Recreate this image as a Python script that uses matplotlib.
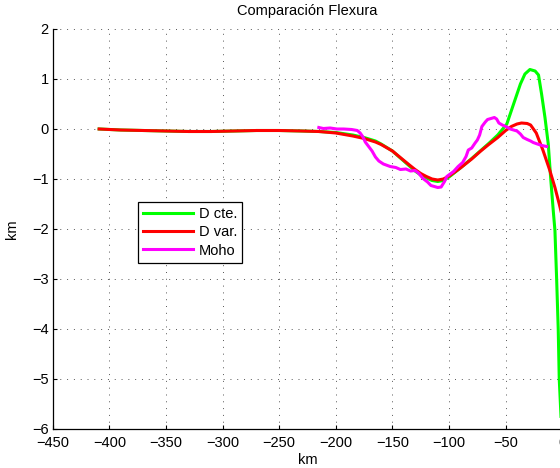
import numpy as np
import matplotlib
matplotlib.use("Agg")
import matplotlib.pyplot as plt

plt.rcParams['font.family'] = ['Liberation Sans', 'DejaVu Sans']
plt.rcParams['font.size'] = 10.5

# D var. (red)
x_var = [-409, -390, -370, -350, -330, -310, -290, -270, -250, -230, -215, -200,
         -185, -175, -165, -160, -150, -142, -135, -130, -125, -120, -115, -110,
         -105, -100, -90, -80, -72, -65, -57, -50, -45, -40, -36, -31, -28, -23,
         -17, -11, -6.5, -2.7, 0]
y_var = [0.0, -0.02, -0.03, -0.04, -0.05, -0.05, -0.04, -0.03, -0.03, -0.04, -0.05, -0.08,
         -0.14, -0.19, -0.26, -0.31, -0.44, -0.59, -0.72, -0.81, -0.89, -0.95, -1.0, -1.02,
         -1.0, -0.94, -0.78, -0.6, -0.44, -0.31, -0.17, -0.03, 0.05, 0.10, 0.12, 0.11, 0.08, -0.08,
         -0.43, -0.83, -1.17, -1.5, -1.75]

# D cte. (green)
x_cte = [-409, -390, -370, -350, -330, -310, -290, -270, -250, -230, -215, -200,
         -185, -175, -165, -160, -150, -142, -135, -130, -125, -120, -115, -110,
         -105, -100, -90, -80, -72, -65, -57, -49, -43, -37, -33, -28.6, -24, -21,
         -18.3, -15.3, -12.4, -10.3, -8, -6.5, -5, -3.6, -2.7, 0]
y_cte = [0.0, -0.02, -0.03, -0.04, -0.05, -0.05, -0.04, -0.03, -0.03, -0.04, -0.05, -0.07,
         -0.12, -0.17, -0.24, -0.30, -0.44, -0.60, -0.74, -0.84, -0.92, -0.98, -1.03, -1.05,
         -1.03, -0.96, -0.78, -0.59, -0.43, -0.29, -0.12, 0.10, 0.50, 0.90, 1.10, 1.19, 1.16, 1.08,
         0.70, 0.23, -0.30, -0.97, -1.63, -2.03, -3.0, -4.0, -5.0, -6.3]

# Moho (magenta)
x_moho = [-215, -211, -205, -199, -193, -186, -181, -178.5, -176, -174, -171, -168,
          -165, -162, -158, -152, -147, -143, -138, -134, -130, -127, -123, -119,
          -116, -113, -110, -107, -104, -102, -99, -96, -92, -88, -85, -83, -80,
          -77, -75, -73, -71, -68, -66, -63, -60, -58, -56, -53, -49, -46, -43,
          -40, -37, -34.5, -31, -28, -25.7, -22, -18, -13.8]
y_moho = [0.03, 0.01, 0.02, 0.0, 0.0, -0.01, -0.03, -0.08, -0.16, -0.26, -0.35, -0.44,
          -0.56, -0.64, -0.70, -0.75, -0.77, -0.81, -0.80, -0.84, -0.83, -0.88, -0.99, -1.06,
          -1.13, -1.15, -1.17, -1.16, -1.05, -0.95, -0.90, -0.85, -0.75, -0.67, -0.55, -0.42, -0.38,
          -0.28, -0.22, -0.12, 0.05, 0.14, 0.19, 0.21, 0.23, 0.20, 0.12, 0.08, 0.04, 0.0, -0.02,
          -0.04, -0.10, -0.17, -0.21, -0.24, -0.27, -0.30, -0.33, -0.35]

fig = plt.figure(figsize=(5.6, 4.68), dpi=100)
ax = fig.add_axes([52.7 / 560, 39 / 468, 509.6 / 560, 400 / 468])

ax.plot(x_cte, y_cte, color=(0, 1, 0), lw=2.2, label='D cte.')
ax.plot(x_var, y_var, color=(1, 0, 0), lw=2.2, label='D var.')
ax.plot(x_moho, y_moho, color=(1, 0, 1), lw=2.2, label='Moho')

ax.set_xlim(-450, 0)
ax.set_ylim(-6, 2)
ax.set_xticks(np.arange(-450, 1, 50))
ax.set_yticks(np.arange(-6, 3, 1))
ax.grid(True, color='#555555', linestyle=(0, (1, 6)), linewidth=0.7)
ax.tick_params(direction='in', length=3, width=0.8, top=False, right=False)
ax.tick_params(axis='x', pad=5)
ax.tick_params(axis='y', pad=3)
for s in ['top', 'right']:
    ax.spines[s].set_visible(False)
for s in ['left', 'bottom']:
    ax.spines[s].set_linewidth(0.9)

ax.set_title('Comparación Flexura', fontsize=10.5, pad=10)
ax.set_xlabel('km', labelpad=2)
ax.set_ylabel('km', labelpad=9)

leg = ax.legend(loc='upper left', bbox_to_anchor=((138 - 52.7) / 509.6, (468 - 201.7 - 39) / 400),
                fancybox=False, framealpha=1, edgecolor='black', borderpad=0.35,
                handlelength=3.4, handletextpad=0.4, labelspacing=0.3, borderaxespad=0)
leg.get_frame().set_linewidth(0.9)

fig.savefig('out.png', dpi=100)
